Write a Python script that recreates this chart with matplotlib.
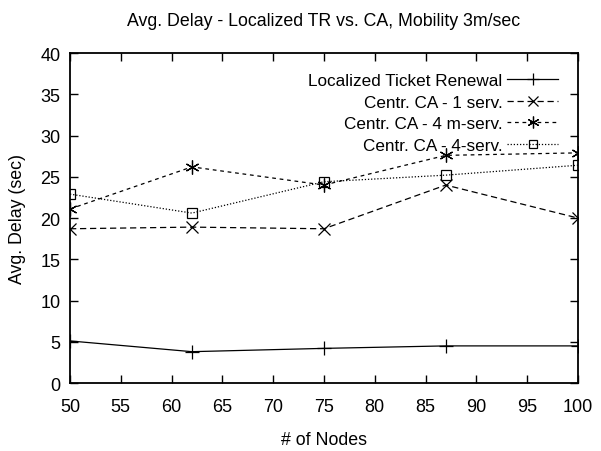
import matplotlib
matplotlib.use("Agg")
import matplotlib.pyplot as plt

plt.rcParams['font.family'] = ['Liberation Sans', 'DejaVu Sans']

nodes = [50, 62, 75, 87, 100]
localized_tr = [5.1, 3.8, 4.2, 4.5, 4.5]
ca_1serv = [18.7, 18.9, 18.7, 24.0, 20.0]
ca_4mserv = [21.1, 26.2, 24.0, 27.6, 27.9]
ca_4serv = [22.9, 20.6, 24.4, 25.2, 26.4]
labels = ["Localized Ticket Renewal", "Centr. CA - 1 serv.",
          "Centr. CA - 4 m-serv.", "Centr. CA - 4-serv."]

fig = plt.figure(figsize=(6.01, 4.52), dpi=100)
ax = fig.add_axes([0.1165, 0.1504, 0.845, 0.730])

ax.plot(nodes, localized_tr, color='black', lw=0.9, ls='-', marker='+', ms=10, mew=0.9, label=labels[0])
ax.plot(nodes, ca_1serv, color='black', lw=0.9, ls=(0, (5, 3)), marker='x', ms=8, mew=0.9, label=labels[1])
ax.plot(nodes, ca_4mserv, color='black', lw=0.9, ls=(0, (3, 3)), marker=(6, 2, 0), ms=10, mew=0.9, label=labels[2])
ax.plot(nodes, ca_4serv, color='black', lw=0.9, ls=(0, (1, 1.5)), marker='s', ms=7, mew=0.9, mfc='none', label=labels[3])

ax.set_xlim(50, 100)
ax.set_ylim(0, 40)
ax.set_xticks(range(50, 101, 5))
ax.set_yticks(range(0, 41, 5))
ax.tick_params(direction='in', top=True, right=True, length=6, width=1, labelsize=13)
ax.tick_params(axis='x', pad=11)
ax.tick_params(axis='y', pad=7)
for s in ax.spines.values():
    s.set_linewidth(1.3)

ax.set_title("Avg. Delay - Localized TR vs. CA, Mobility 3m/sec", fontsize=12.8, pad=20)
ax.set_xlabel("# of Nodes", fontsize=12.8, labelpad=11)
ax.set_ylabel("Avg. Delay (sec)", fontsize=12.8, labelpad=10)

leg = ax.legend(loc='upper right', frameon=False, markerfirst=False, fontsize=12.3,
                handlelength=3.0, labelspacing=0.4, borderaxespad=0.75,
                handletextpad=0.25, borderpad=0.4, markerscale=0.85)

fig.savefig("out.png", dpi=100)
